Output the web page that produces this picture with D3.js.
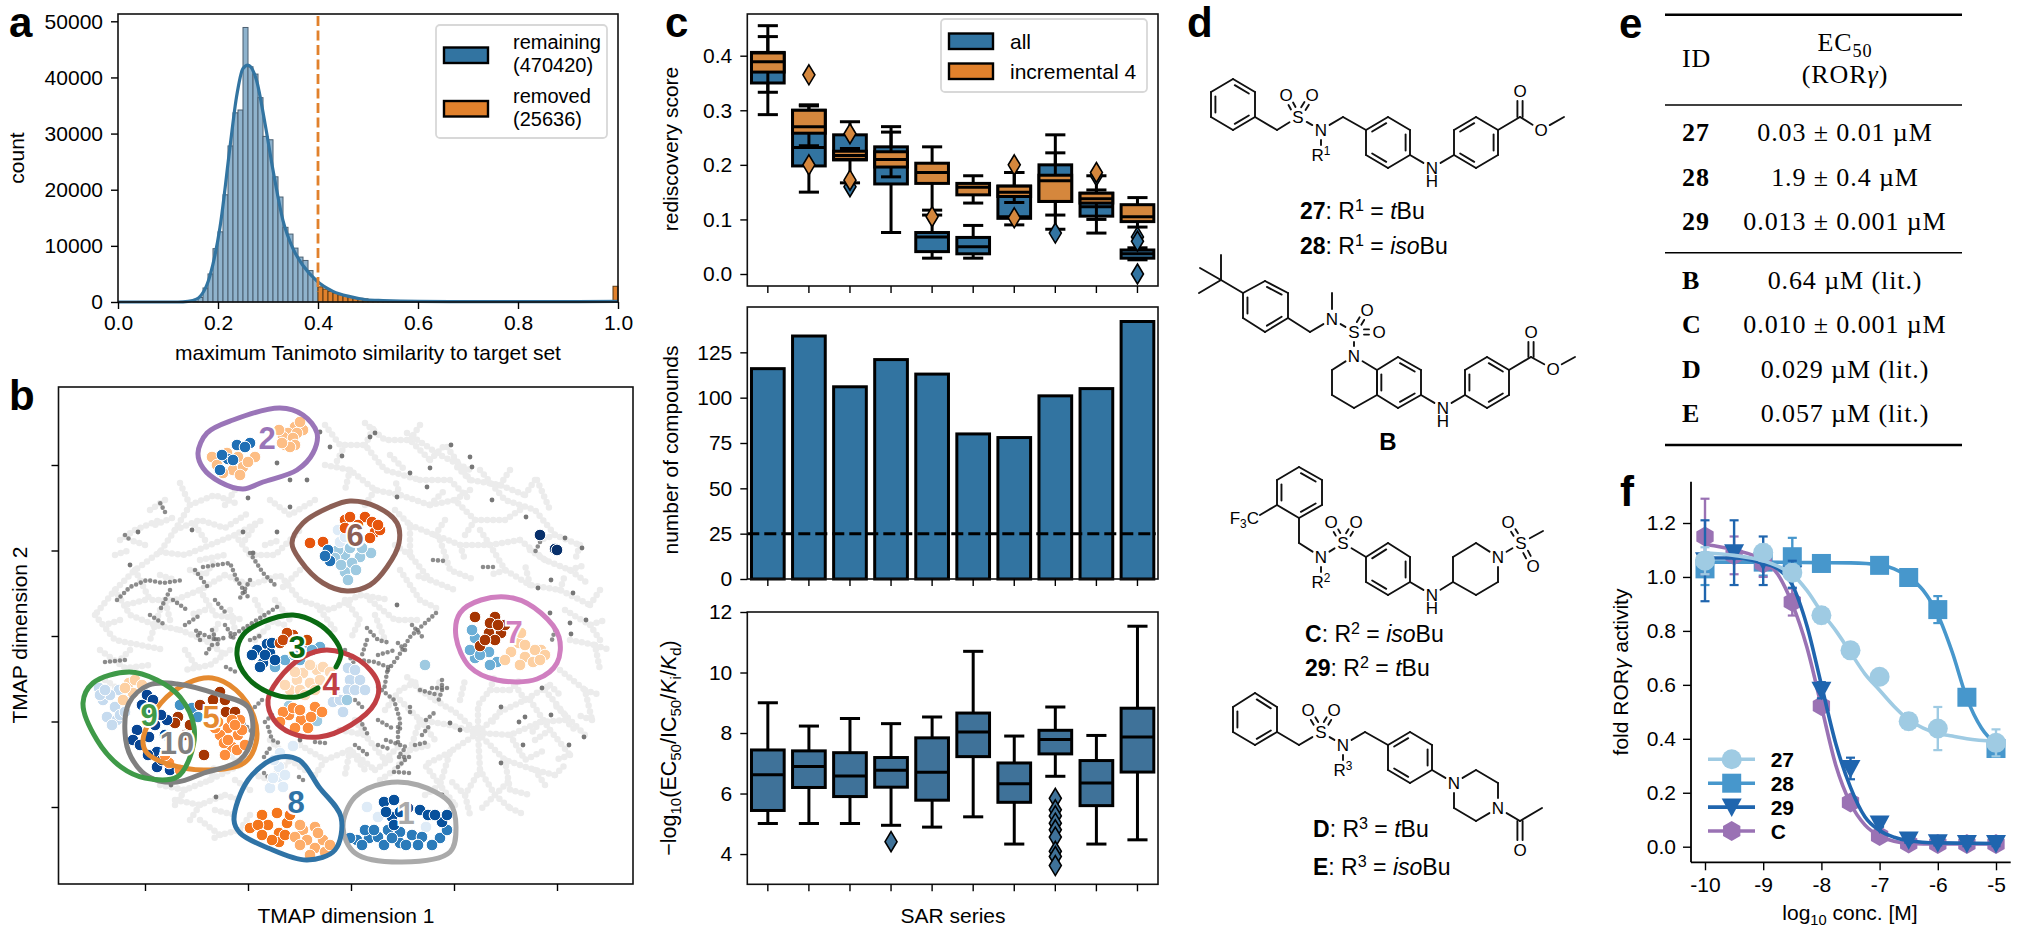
<!DOCTYPE html>
<html><head><meta charset="utf-8">
<script src="https://cdn.jsdelivr.net/npm/d3@7"></script>
<style>
html,body{margin:0;padding:0;background:#fff}
svg{display:block}
text{font-family:"Liberation Sans",Arial,sans-serif;fill:#000}
.axis text{font-size:21px}
.axis line{stroke:#000;stroke-width:1.4}
.axis path{display:none}
</style></head><body>
<svg id="fig" width="2021" height="937" viewBox="0 0 2021 937"></svg>
<script>
// ---------- panel a data ----------
const histStart = 0.15, histWidth = 0.01;
const histRemaining = [100,800,2500,5000,9500,12500,19100,27800,33700,34200,48900,41900,40600,36400,29500,28900,22300,18700,13300,12100,9600,8000,7400,5600,4100];
const histRemoved = [2700,2300,1900,1600,1300,1100,900,750,650,550,400,320,260,220,180,150,120,100,90,80];
const histRemovedEnd = [[0.99,2800]];
const kdeX = [0,0.12,0.14,0.157,0.184,0.204,0.224,0.237,0.25,0.26,0.277,0.294,0.31,0.33,0.35,0.37,0.397,0.43,0.464,0.497,0.53,0.6,0.8,1.0];
const kdeY = [0,0,100,500,4700,13300,27600,36500,41600,42200,39500,31800,23500,14500,9500,6500,3800,1900,950,400,250,100,50,100];
const aTicksY = [0,10000,20000,30000,40000,50000];
const aTicksX = [0,0.2,0.4,0.6,0.8,1.0];
const aThreshold = 0.4;
const aLegend = [["remaining","(470420)"],["removed","(25636)"]];

// ---------- panel c data (low whisker, q1, median, q3, high whisker) ----------
const sarSeries = ["1","2","3","4","5","6","7","8","9","10"];
const scoreAll = [[.292,.35,.38,.406,.455],[.15,.198,.232,.30,.308],[.167,.209,.218,.255,.279],[.076,.165,.2,.233,.27],[.029,.041,.068,.076,.108],[.029,.037,.05,.067,.089],[.09,.102,.105,.161,.186],[.082,.133,.17,.2,.255],[.075,.106,.123,.148,.18],[.026,.029,.037,.044,.048]];
const scoreInc = [[.333,.37,.389,.405,.435],[.235,.258,.27,.30,.31],[.21,.21,.217,.225,.23],[.178,.196,.21,.224,.26],[.117,.166,.186,.203,.233],[.13,.145,.159,.166,.18],[.131,.142,.15,.161,.186],[.108,.133,.171,.181,.222],[.1,.13,.138,.148,.154],[.086,.096,.105,.127,.14]];
const scoreAllFliers = [[],[],[.16],[],[],[],[],[.075],[.18],[.068,.06,0.0]];
const scoreIncFliers = [[],[.365,.2],[.257,.172],[],[.105],[],[.2,.103],[],[.186],[]];
const scoreTicks = [0,0.1,0.2,0.3,0.4];
const compoundCounts = [116,134,106,121,113,80,78,101,105,142];
const compoundTicks = [0,25,50,75,100,125];
const compoundCut = 25;
const potencyBoxes = [[5.01,5.44,6.62,7.44,9.0],[5.01,6.2,6.89,7.41,8.23],[5.01,5.9,6.58,7.35,8.48],[4.95,6.21,6.77,7.19,8.31],[4.89,5.78,6.7,7.84,8.53],[5.23,7.22,8.03,8.66,10.7],[4.33,5.71,6.32,7.01,7.9],[6.57,7.31,7.79,8.09,8.86],[4.33,5.6,6.35,7.09,7.92],[4.47,6.71,7.87,8.82,11.53]];
const potencyFliers = [[],[],[],[4.41],[],[],[],[5.84,5.46,5.26,5.02,4.8,4.56,4.09,3.92,3.62],[],[]];
const potencyTicks = [4,6,8,10,12];
const cLegend = ["all","incremental 4"];

// ---------- panel b data, in TMAP units ----------
const lightBranches = [
[[180,483],[190,505],[175,530],[160,552],[135,570],[115,590],[95,615]],[[190,505],[215,495],[240,505]],[[175,530],[200,520],[225,528],[250,512]],[[160,552],[185,555],[210,545],[235,535],[262,520]],[[135,570],[150,600],[175,600],[200,590],[225,575]],[[115,590],[130,615],[155,625],[180,630]],[[95,615],[115,640],[140,645],[165,650]],[[120,540],[135,530],[160,520]],[[115,555],[130,550]],[[235,535],[250,555],[275,555],[300,530]],[[225,575],[250,585],[280,575],[300,600]],[[200,590],[215,615],[245,620]],[[180,630],[205,640],[225,655]],[[100,650],[125,668],[150,665]],[[105,680],[120,690]],[[270,500],[290,515],[315,500]],[[300,600],[330,610],[360,595],[390,600]],
[[325,425],[340,445],[365,445],[385,470],[420,480]],[[365,423],[385,440],[410,440],[430,460]],[[325,465],[350,470],[375,490],[400,495],[430,505]],[[407,433],[440,455],[470,470]],[[447,447],[470,480],[500,485],[525,495]],[[430,505],[455,500],[475,520],[505,520]],[[420,480],[450,480],[470,500]],[[410,525],[435,535],[460,545],[490,545],[520,540]],[[395,510],[410,525],[410,555],[430,580],[455,590]],[[480,470],[505,500],[535,510],[555,535],[580,545]],[[537,480],[550,510]],[[520,540],[545,560],[570,570],[590,585]],[[490,545],[505,570],[530,585],[560,590],[590,605]],[[400,570],[420,600],[440,610]],[[370,600],[395,620],[420,620]],[[440,540],[450,570],[475,580]],
[[565,610],[590,625],[605,620]],[[570,640],[595,645],[600,670]],[[560,670],[585,690],[592,720]],[[545,690],[565,715],[585,735]],[[530,700],[550,730],[570,755]],
[[478,733],[478,705],[490,690],[510,690]],[[478,733],[455,712],[435,700],[420,690]],[[478,733],[500,712],[525,700],[550,685]],[[478,733],[510,735],[540,722],[565,720]],[[478,733],[505,760],[535,770],[555,775]],[[478,733],[480,770],[495,795],[510,808]],[[478,733],[450,752],[440,785],[455,805]],[[420,720],[450,725],[478,733]],[[400,700],[420,720],[410,750],[395,770]],[[510,735],[525,760],[545,750]],[[505,760],[510,790],[530,795]],[[450,752],[425,765],[440,785]],[[480,770],[465,795],[470,815]],[[495,795],[480,810]],
[[300,745],[325,760],[350,750],[375,770]],[[340,730],[365,735],[385,760]],[[350,750],[345,775]],[[385,710],[400,690],[420,680]],[[230,650],[210,665],[185,670]],[[270,740],[290,760],[270,780]],
[[160,785],[185,790],[210,780],[240,765]],[[175,800],[200,805],[225,795]],[[200,820],[220,835],[240,830]],[[215,810],[235,815]],[[250,790],[235,780]],
[[150,510],[165,500]],[[172,518],[155,525]],[[145,545],[130,540]],[[160,575],[175,580]],[[190,570],[205,575],[215,560]],[[205,540],[195,525]],[[225,505],[235,490]],[[245,540],[255,525]],[[265,545],[280,540]],[[255,600],[265,620],[285,625]],[[230,610],[235,630]],[[205,610],[190,615]],[[160,610],[150,640]],[[120,620],[105,625]],[[130,650],[120,660]],[[185,650],[195,665]],[[145,600],[125,605]],[[200,560],[225,555]],[[170,620],[165,600]],[[210,640],[220,620]],[[255,640],[270,625]],[[275,600],[290,620]],[[300,570],[280,590]],[[320,610],[335,630]],[[345,600],[360,620],[350,640]],[[375,615],[385,640]],
[[345,445],[335,465]],[[365,445],[375,425]],[[390,455],[405,470]],[[410,440],[420,425]],[[430,460],[445,445]],[[350,470],[345,490]],[[375,490],[365,505]],[[400,495],[395,480]],[[430,505],[445,490]],[[455,500],[470,490]],[[470,480],[455,465]],[[500,485],[510,470]],[[525,495],[535,480]],[[475,520],[465,535]],[[505,520],[520,510]],[[435,535],[445,520]],[[460,545],[465,560]],[[490,545],[480,530]],[[410,555],[395,545]],[[430,580],[415,575]],[[505,570],[490,575]],[[530,585],[525,565]],[[560,590],[565,575]],[[555,535],[540,540]],[[580,545],[575,560]],[[545,560],[530,550]],[[570,570],[585,565]],[[590,605],[600,590]],
[[590,625],[600,640]],[[595,645],[610,650]],[[585,690],[600,695]],[[592,720],[578,715]],[[565,715],[555,705]],[[550,730],[535,740]],[[570,755],[555,760]],[[490,690],[495,675]],[[510,690],[520,680]],[[435,700],[440,680]],[[420,690],[405,675]],[[525,700],[515,685]],[[550,685],[560,695]],[[540,722],[530,735]],[[565,720],[575,730]],[[535,770],[545,785]],[[555,775],[565,765]],[[510,808],[525,815]],[[495,795],[510,780]],[[455,805],[445,815]],[[440,785],[425,795]],[[465,795],[450,780]],[[395,770],[380,780]],[[410,750],[430,745]],[[420,720],[435,740]],[[460,700],[465,680]],[[500,712],[490,725]],
[[325,760],[315,775]],[[350,750],[365,770]],[[375,770],[390,760]],[[365,735],[355,720]],[[385,760],[400,745]],[[290,760],[305,770]],[[270,780],[255,775]],[[240,765],[225,750]],[[210,780],[215,765]],[[185,790],[175,805]],[[200,805],[190,820]],[[225,795],[240,800]],[[220,835],[210,840]],[[240,830],[250,815]]
];
const darkBranches = [
[[436,613],[423,625],[410,637],[398,657],[388,670]],[[367,628],[378,640],[390,643]],[[359,660],[375,662],[388,667],[384,690]],[[442,680],[442,690],[438,702]],[[432,688],[452,688]],
[[386,740],[406,747],[398,757],[412,757]],[[398,727],[398,745]],[[426,720],[434,713]],[[410,707],[410,717]],[[378,687],[394,700],[400,720],[400,733]],
[[268,727],[272,740],[279,743]],[[264,757],[272,745]],[[315,742],[325,743]],[[200,633],[216,640],[228,637]],[[212,630],[218,645]],[[105,662],[125,660]],[[226,667],[238,673]],
[[117,600],[130,587],[147,580],[163,583],[183,580]],[[173,600],[187,610]],[[203,567],[230,563],[237,580],[250,600]],[[250,553],[263,573],[277,587]],[[277,607],[257,620],[230,637]],
[[264,773],[272,781]],[[299,777],[307,783]],[[394,772],[410,773]],[[540,542],[535,552]],[[165,512],[158,499]],[[125,535],[132,542]],[[433,560],[445,561]],[[483,567],[495,567]],[[555,630],[552,640]],
[[200,640],[195,628]],[[212,645],[205,655]],[[225,625],[235,640]],[[250,640],[262,635]],[[345,650],[355,665]],[[367,640],[362,655]],[[378,655],[395,650]],[[405,650],[395,640]],[[412,625],[425,640]],[[420,690],[438,695]],[[378,720],[392,728]],[[378,745],[392,750]],[[405,760],[395,770]],[[415,745],[428,742]],[[422,735],[430,725]],[[360,720],[368,735]],[[355,700],[365,710]],[[355,745],[368,755]],[[272,715],[262,725]],[[240,720],[255,735]],[[262,700],[250,712]],[[150,615],[165,625]],[[170,590],[160,610]],[[195,570],[210,590]],[[250,580],[240,598]],[[215,600],[225,612]],[[185,625],[200,615]]
];
const darkDots = [[320,432],[370,437],[375,433],[330,447],[342,456],[277,463],[290,480],[307,480],[248,498],[192,530],[138,532],[243,532],[277,532],[290,507],[397,497],[410,473],[430,468],[427,487],[451,445],[470,457],[472,467],[492,500],[397,605],[130,565],[253,553],[526,517],[551,580],[538,588],[573,593],[550,613],[570,623],[586,620],[571,634],[542,688],[525,717],[551,715],[565,538],[582,548],[501,707],[501,763],[523,745],[569,745],[584,737],[450,723],[460,730],[519,722],[216,797],[442,795],[171,785],[300,740]];
const clusterPoints = [
{c:"#fdbe85",p:[[295,427],[303,430],[288,433],[297,433],[283,437],[293,438],[285,445],[295,445],[290,447],[212,457],[238,457],[255,457],[233,470],[243,467],[227,453],[300,422],[282,443],[279,430],[248,462],[217,465],[240,475],[223,473]]},
{c:"#1f6fb5",p:[[237,445],[250,443],[228,459],[220,470],[222,455],[245,447],[233,460]]},
{c:"#9ecae1",p:[[345,555],[360,557],[371,553],[345,572],[352,563],[338,550],[350,548],[335,558],[356,570],[348,580],[341,565],[362,548]]},
{c:"#deebf7",p:[[338,530],[340,542],[345,537]]},
{c:"#e6550d",p:[[345,520],[365,517],[375,532],[380,530],[370,538],[310,543],[323,542],[350,517],[358,525],[372,522],[378,525],[345,528]]},
{c:"#2171b5",p:[[328,550],[330,561],[325,556]]},
{c:"#6baed6",p:[[285,660],[275,667],[320,647],[305,650],[294,655],[312,650],[300,660]]},
{c:"#08519c",p:[[257,650],[267,644],[263,663],[270,653],[260,667],[272,643],[265,655],[252,655],[275,660]]},
{c:"#c8490a",p:[[280,643],[293,635],[287,633],[307,640],[283,640]]},
{c:"#fdd9b5",p:[[303,673],[317,670],[323,667],[310,683],[297,680],[320,680],[310,665],[290,690],[300,690],[285,685],[330,672],[295,672],[315,690],[305,695]]},
{c:"#c6dbef",p:[[348,668],[350,680],[360,680],[348,690],[333,702],[340,700],[355,670],[355,690],[343,712],[365,690],[335,690]]},
{c:"#9ecae1",p:[[289,706],[317,721],[347,700]]},
{c:"#fd8d3c",p:[[289,715],[315,707],[301,720],[283,712],[311,717],[293,708],[300,710],[280,722],[322,712],[295,728],[308,728]]},
{c:"#6baed6",p:[[475,638],[475,658],[489,652],[497,662],[470,650],[480,655],[472,630],[490,665]]},
{c:"#a63603",p:[[475,617],[495,617],[489,633],[480,646],[501,633],[490,623],[495,640],[485,640],[505,625],[498,625]]},
{c:"#fdd0a2",p:[[511,652],[525,657],[541,650],[519,643],[533,662],[521,633],[535,650],[545,655],[525,645],[520,665],[505,660],[540,660]]},
{c:"#deebf7",p:[[278,777],[270,788],[283,787],[279,767],[293,746],[280,753],[274,760],[285,775],[273,778]]},
{c:"#f4761c",p:[[250,828],[262,815],[277,813],[268,825],[279,833],[287,823],[279,842],[258,825],[272,840],[290,815],[262,835],[285,835]]},
{c:"#fdae6b",p:[[303,830],[315,827],[307,840],[323,840],[295,837],[315,848],[300,845],[325,852],[330,845],[310,855],[318,833],[300,825]]},
{c:"#deebf7",p:[[367,807],[378,817],[426,827]]},
{c:"#2b7bba",p:[[357,840],[369,838],[378,837],[400,832],[412,835],[440,838],[422,837],[400,843],[388,830],[365,830],[350,838],[362,845],[384,845],[392,838],[406,845],[418,845],[432,845],[447,830],[374,830]]},
{c:"#08519c",p:[[384,802],[394,800],[420,810],[442,822],[428,815],[392,817],[400,812],[386,812],[408,808],[435,815],[447,815],[394,825]]},
{c:"#c6dbef",p:[[99,688],[119,690],[115,707],[107,717],[117,720],[103,700],[125,700],[110,695],[100,695],[120,715],[112,725],[125,712],[105,690]]},
{c:"#fdd0a2",p:[[129,683],[133,693],[123,700],[135,680],[125,688],[142,685]]},
{c:"#4292c6",p:[[192,708],[198,717],[180,705]]},
{c:"#a63603",p:[[178,717],[204,755],[226,712],[220,692],[175,723],[190,725],[200,705],[213,700],[225,700],[235,712],[185,735]]},
{c:"#084594",p:[[147,695],[153,700],[167,720],[137,730],[149,737],[157,752],[157,767],[133,740],[161,715],[142,705],[150,712],[155,725],[165,735],[140,745],[148,755],[162,760],[170,770]]},
{c:"#fd8d3c",p:[[228,728],[220,735],[232,747],[240,720],[232,720],[169,763],[224,743],[238,735],[215,728],[242,730],[228,740],[237,750],[218,722],[225,755],[235,725],[245,745],[180,770],[165,755]]},
{c:"#08306b",p:[[540,535],[555,549],[557,550]]},
{c:"#9ecae1",p:[[425,665]]}
];
const clusterLoops = [
{id:"1",c:"#aaaaaa",closed:true,l:[406,813],p:[[343,827],[355,797],[386,783],[418,785],[450,803],[456,827],[450,852],[402,862],[355,853]]},
{id:"2",c:"#9a75b8",closed:true,l:[267,438],p:[[198,453],[207,433],[233,420],[280,408],[303,415],[317,433],[313,453],[297,470],[263,482],[243,489],[220,482],[203,468]]},
{id:"6",c:"#8c5f55",closed:true,l:[355,535],p:[[292,543],[303,523],[330,507],[350,501],[377,507],[397,523],[399,543],[387,567],[370,585],[347,591],[323,583],[300,560]]},
{id:"7",c:"#d07fc0",closed:true,l:[514,632],p:[[456,637],[460,613],[481,600],[513,598],[541,613],[559,637],[557,663],[537,679],[497,680],[470,667]]},
{id:"8",c:"#2f73a6",closed:true,l:[296,802],p:[[234,820],[248,780],[276,758],[299,760],[319,787],[341,817],[335,850],[307,860],[268,848],[240,833]]},
{id:"4",c:"#c13f44",closed:true,l:[331,684],p:[[268,700],[278,680],[303,657],[327,650],[359,660],[378,683],[375,703],[351,725],[319,737],[291,733],[274,720]]},
{id:"3",c:"#0a6a12",closed:false,l:[297,647],p:[[318,688],[297,697],[270,693],[247,677],[237,655],[243,635],[263,622],[293,615],[317,623],[333,637],[341,653],[336,667]]},
{id:"5",c:"#e58a30",closed:true,l:[211,717],p:[[143,740],[161,703],[188,683],[212,678],[236,690],[254,717],[256,743],[244,763],[204,770],[165,763],[147,753]]},
{id:"10",c:"#808080",closed:true,l:[177,743],p:[[125,733],[129,703],[149,685],[177,684],[220,695],[248,707],[252,737],[240,760],[204,773],[177,782],[149,777],[131,757]]},
{id:"9",c:"#3f9a48",closed:true,l:[149,715],p:[[83,703],[93,683],[129,672],[157,680],[180,697],[194,727],[190,757],[177,777],[145,778],[121,767],[97,740]]}
];
const bTicksX = [145,248,351,454,557];
const bTicksY = [465,550.5,636,721.5,807];

// ---------- panel e data ----------
const tableIds = ["27","28","29","B","C","D","E"];
const tableVals = ["0.03 ± 0.01 µM","1.9 ± 0.4 µM","0.013 ± 0.001 µM","0.64 µM (lit.)","0.010 ± 0.001 µM","0.029 µM (lit.)","0.057 µM (lit.)"];

// ---------- panel f data ----------
const doseFull = [-10,-9.5,-9,-8.5,-8,-7.5,-7,-6.5,-6,-5.5,-5];
const seriesF = [
 {name:"28",c:"#4797cc",m:"square",x:[-10,-9,-8.5,-8,-7,-6.5,-6,-5.5,-5],y:[1.03,1.055,1.075,1.05,1.043,.998,.879,.554,.364],e:[.06,.05,.07,.02,.02,.02,.05,.02,.02],
  cx:[-10,-9,-8,-7.5,-7,-6.75,-6.5,-6.25,-6,-5.75,-5.5,-5.25,-5],cy:[1.055,1.055,1.053,1.052,1.045,1.03,1.0,.95,.86,.72,.55,.44,.38]},
 {name:"C",c:"#9a72b4",m:"hex",x:doseFull,y:[1.15,1.08,1.05,.907,.522,.164,.04,.012,.01,.01,.01],e:[.14,.07,.05,.05,.02,.02,.01,.01,.01,.01,.01],
  cx:[-10,-9.5,-9,-8.75,-8.5,-8.25,-8,-7.75,-7.5,-7.25,-7,-6.75,-6.5,-6,-5],cy:[1.12,1.10,1.06,1.01,.9,.74,.52,.30,.16,.08,.04,.02,.012,.01,.01]},
 {name:"29",c:"#1f65ae",m:"tri",x:doseFull,y:[1.06,1.09,1.06,1.01,.58,.29,.084,.025,.015,.012,.012],e:[.15,.12,.09,.05,.03,.04,.01,.01,.01,.01,.01],
  cx:[-10,-9.5,-9,-8.75,-8.5,-8.25,-8,-7.75,-7.5,-7.25,-7,-6.75,-6.5,-6,-5],cy:[1.07,1.07,1.05,1.03,.97,.82,.6,.38,.22,.11,.06,.035,.022,.014,.012]},
 {name:"27",c:"#9fcbe3",m:"circle",x:[-10,-9,-8.5,-8,-7.5,-7,-6.5,-6,-5],y:[1.06,1.09,1.016,.858,.728,.63,.465,.438,.385],e:[.05,.03,.03,.03,.02,.02,.03,.08,.05],
  cx:[-10,-9.5,-9,-8.75,-8.5,-8.25,-8,-7.75,-7.5,-7.25,-7,-6.75,-6.5,-6.25,-6,-5.75,-5.5,-5],cy:[1.09,1.08,1.06,1.04,1.01,.95,.87,.80,.72,.64,.58,.52,.47,.44,.42,.41,.40,.39]}
];
const fLegendOrder = ["27","28","29","C"];
const fTicksY = [0,.2,.4,.6,.8,1.0,1.2];
const fTicksX = [-10,-9,-8,-7,-6,-5];

const BLUE="#3274a1", ORANGE="#e1812c", BOX_ORANGE="#d5873d";
const svg = d3.select("#fig");

function rot(x,y,size,parts){
  const t=svg.append("text").attr("transform",`translate(${x},${y}) rotate(-90)`).attr("text-anchor","middle").style("font-size",size+"px");
  fill(t,parts,size);return t;
}
function fill(t,parts,size){
  let shift=0;
  parts.forEach(p=>{
    const o=typeof p==="string"?{t:p}:p;
    const ts=t.append("tspan").text(o.t);
    let target=0;
    if(o.sub){target=size*.22;ts.style("font-size",(size*.7)+"px");}
    if(o.sup){target=-size*.36;ts.style("font-size",(size*.7)+"px");}
    if(o.b)ts.style("font-weight","bold");
    if(o.i)ts.style("font-style","italic");
    if(target!==shift){ts.attr("dy",target-shift);shift=target;}
  });
}
function txt(x,y,size,parts,anchor){
  const t=svg.append("text").attr("x",x).attr("y",y).attr("text-anchor",anchor||"start").style("font-size",size+"px");
  fill(t,Array.isArray(parts)?parts:[parts],size);return t;
}
function frame(l,t,r,b){svg.append("rect").attr("x",l).attr("y",t).attr("width",r-l).attr("height",b-t).attr("fill","none").attr("stroke","#111").attr("stroke-width",1.6);}
function axis(gen,x,y){return svg.append("g").attr("class","axis").attr("transform",`translate(${x},${y})`).call(gen);}

// panel letters
[["a",9,37],["b",9,410],["c",665,37],["d",1187,37],["e",1619,38],["f",1620,506]].forEach(d=>
  svg.append("text").attr("x",d[1]).attr("y",d[2]).style("font-size","42px").style("font-weight","bold").text(d[0]));

// ---------- panel a ----------
const ax=d3.scaleLinear().domain([0,1]).range([118,618]);
const ay=d3.scaleLinear().domain([0,50000]).range([302,21.3]);
const binW=ax(histWidth)-ax(0);
svg.append("g").selectAll("rect").data(histRemaining).join("rect")
 .attr("x",(d,i)=>ax(histStart+i*histWidth)).attr("y",d=>ay(d)).attr("width",binW).attr("height",d=>ay(0)-ay(d))
 .attr("fill","#8fb3cd").attr("stroke","#4a5f70").attr("stroke-width",1);
svg.append("g").selectAll("rect").data(histRemoved).join("rect")
 .attr("x",(d,i)=>ax(0.4+i*histWidth)).attr("y",d=>ay(d)).attr("width",binW).attr("height",d=>ay(0)-ay(d))
 .attr("fill",ORANGE).attr("stroke","#5a3a14").attr("stroke-width",1);
svg.append("g").selectAll("rect").data(histRemovedEnd).join("rect")
 .attr("x",d=>ax(d[0])).attr("y",d=>ay(d[1])).attr("width",binW).attr("height",d=>ay(0)-ay(d[1]))
 .attr("fill",ORANGE).attr("stroke","#5a3a14").attr("stroke-width",1);
svg.append("path").datum(kdeX.map((x,i)=>[x,kdeY[i]])).attr("fill","none").attr("stroke",BLUE).attr("stroke-width",3.2)
 .attr("d",d3.line().x(d=>ax(d[0])).y(d=>ay(d[1])).curve(d3.curveMonotoneX));
svg.append("line").attr("x1",ax(aThreshold)).attr("x2",ax(aThreshold)).attr("y1",16).attr("y2",ay(1800)).attr("stroke",ORANGE).attr("stroke-width",2.8).attr("stroke-dasharray","10 4.5");
frame(118,14,618,302);
axis(d3.axisLeft(ay).tickValues(aTicksY).tickFormat(d3.format("d")).tickSize(7).tickPadding(8),118,0);
axis(d3.axisBottom(ax).tickValues(aTicksX).tickFormat(d3.format(".1f")).tickSize(7).tickPadding(6),0,302);
rot(24,158,21,["count"]);
txt(368,360,21,"maximum Tanimoto similarity to target set","middle");
svg.append("rect").attr("x",436).attr("y",25).attr("width",171).attr("height",113).attr("rx",4).attr("fill","#fff").attr("stroke","#d8d8d8").attr("stroke-width",1.8);
[[BLUE,47.5,0],[ORANGE,101,1]].forEach(d=>{
  svg.append("rect").attr("x",444).attr("y",d[1]).attr("width",44).attr("height",15.5).attr("fill",d[0]).attr("stroke","#000").attr("stroke-width",2.4);
  txt(513,d[1]+1.5,20,aLegend[d[2]][0]);txt(513,d[1]+24.5,20,aLegend[d[2]][1]);
});

// ---------- panel b ----------
const tx=d3.scaleLinear().domain([58.5,633]).range([58.5,633]);
const ty=d3.scaleLinear().domain([387,884]).range([387,884]);
const tline=d3.line().x(d=>tx(d[0])).y(d=>ty(d[1]));
svg.append("g").selectAll("path").data(lightBranches).join("path").attr("d",tline).attr("fill","none")
 .attr("stroke","#ececec").attr("stroke-width",6.5).attr("stroke-linecap","round").attr("stroke-dasharray","0 6");
svg.append("g").selectAll("path").data(darkBranches).join("path").attr("d",tline).attr("fill","none")
 .attr("stroke","#666").attr("stroke-opacity",.75).attr("stroke-width",4.6).attr("stroke-linecap","round").attr("stroke-dasharray","0 5");
svg.append("g").selectAll("circle").data(darkDots).join("circle").attr("cx",d=>tx(d[0])).attr("cy",d=>ty(d[1])).attr("r",2.4).attr("fill","#777");
clusterPoints.forEach(g=>{
  svg.append("g").selectAll("circle").data(g.p).join("circle").attr("cx",d=>tx(d[0])).attr("cy",d=>ty(d[1])).attr("r",5.8).attr("fill",g.c).attr("stroke","#fff").attr("stroke-width",1);
});
clusterLoops.forEach(l=>{
  svg.append("path").datum(l.p).attr("fill","none").attr("stroke",l.c).attr("stroke-width",5).attr("stroke-linecap","round")
   .attr("d",tline.curve(l.closed?d3.curveCatmullRomClosed:d3.curveCatmullRom));
});
tline.curve(d3.curveLinear);
clusterLoops.forEach(l=>{
  svg.append("text").attr("x",tx(l.l[0])).attr("y",ty(l.l[1])+11).attr("text-anchor","middle")
   .style("font-size","31px").style("font-weight","bold").style("fill",l.c).style("stroke","#fff").style("stroke-width","4px").style("paint-order","stroke").text(l.id);
});
frame(58.5,387,633,884);
axis(d3.axisBottom(tx).tickValues(bTicksX).tickFormat("").tickSize(7),0,884);
axis(d3.axisLeft(ty).tickValues(bTicksY).tickFormat("").tickSize(7),58.5,0);
txt(346,923,21,"TMAP dimension 1","middle");
rot(27,635,21,["TMAP dimension 2"]);

// ---------- panel c ----------
const cx=d3.scaleBand().domain(sarSeries).range([747.3,1158]).paddingInner(.155).paddingOuter(.0775);
const cc=s=>cx(s)+cx.bandwidth()/2;
function boxes(y,stats,fliers,color){
  const g=svg.append("g");
  stats.forEach((s,i)=>{
    const k=sarSeries[i],x0=cc(k),w=cx.bandwidth();
    const sw=3;
    g.append("line").attr("x1",x0).attr("x2",x0).attr("y1",y(s[0])).attr("y2",y(s[1])).attr("stroke","#000").attr("stroke-width",sw);
    g.append("line").attr("x1",x0).attr("x2",x0).attr("y1",y(s[3])).attr("y2",y(s[4])).attr("stroke","#000").attr("stroke-width",sw);
    [s[0],s[4]].forEach(v=>g.append("line").attr("x1",x0-w*.29).attr("x2",x0+w*.29).attr("y1",y(v)).attr("y2",y(v)).attr("stroke","#000").attr("stroke-width",sw));
    g.append("rect").attr("x",x0-w/2+1).attr("width",w-2).attr("y",y(s[3])).attr("height",y(s[1])-y(s[3])).attr("fill",color).attr("stroke","#000").attr("stroke-width",sw);
    g.append("line").attr("x1",x0-w/2+1).attr("x2",x0+w/2-1).attr("y1",y(s[2])).attr("y2",y(s[2])).attr("stroke","#000").attr("stroke-width",sw);
    (fliers[i]||[]).forEach(v=>g.append("path").attr("d",`M${x0},${y(v)-10}L${x0+6},${y(v)}L${x0},${y(v)+10}L${x0-6},${y(v)}Z`).attr("fill",color).attr("stroke","#000").attr("stroke-width",1.6));
  });
}
const cy1=d3.scaleLinear().domain([0,0.4]).range([274,55.7]);
boxes(cy1,scoreAll,scoreAllFliers,BLUE);
boxes(cy1,scoreInc,scoreIncFliers,BOX_ORANGE);
frame(747.3,14,1158,286);
axis(d3.axisLeft(cy1).tickValues(scoreTicks).tickFormat(d3.format(".1f")).tickSize(7).tickPadding(8),747.3,0);
axis(d3.axisBottom(cx).tickFormat("").tickSize(7),0,286);
rot(678,149,21,["rediscovery score"]);
svg.append("rect").attr("x",941).attr("y",19).attr("width",206).attr("height",73).attr("rx",4).attr("fill","#fff").attr("stroke","#d8d8d8").attr("stroke-width",1.8);
[[BLUE,33.5,0],[ORANGE,63.5,1]].forEach(d=>{
  svg.append("rect").attr("x",949).attr("y",d[1]).attr("width",44).attr("height",15.5).attr("fill",d[0]).attr("stroke","#000").attr("stroke-width",2.4);
  txt(1010,d[1]+15,21,cLegend[d[2]]);
});
const cy2=d3.scaleLinear().domain([0,150]).range([579,307]);
svg.append("g").selectAll("rect").data(compoundCounts).join("rect")
 .attr("x",(d,i)=>cx(sarSeries[i])+1).attr("width",cx.bandwidth()-2).attr("y",d=>cy2(d)).attr("height",d=>cy2(0)-cy2(d))
 .attr("fill",BLUE).attr("stroke","#000").attr("stroke-width",3);
svg.append("line").attr("x1",747.3).attr("x2",1156).attr("y1",cy2(compoundCut)).attr("y2",cy2(compoundCut)).attr("stroke","#000").attr("stroke-width",3).attr("stroke-dasharray","12 5");
frame(747.3,307,1158,579);
axis(d3.axisLeft(cy2).tickValues(compoundTicks).tickSize(7).tickPadding(8),747.3,0);
axis(d3.axisBottom(cx).tickFormat("").tickSize(7),0,579);
rot(678,450,21,["number of compounds"]);
const cy3=d3.scaleLinear().domain([3,12]).range([884.3,612]);
boxes(cy3,potencyBoxes,potencyFliers,"#3f7299");
frame(747.3,612,1158,884.3);
axis(d3.axisLeft(cy3).tickValues(potencyTicks).tickSize(7).tickPadding(8),747.3,0);
axis(d3.axisBottom(cx).tickFormat("").tickSize(7),0,884.3);
txt(953,923,21,"SAR series","middle");
rot(676,748,21.5,["−log",{t:"10",sub:1},"(EC",{t:"50",sub:1},"/IC",{t:"50",sub:1},"/",{t:"K",i:1},{t:"i",sub:1},"/",{t:"K",i:1},{t:"d",sub:1},")"]);

// ---------- panel d: structures ----------
const mol=svg.append("g").attr("stroke","#111").attr("stroke-width",1.9).attr("stroke-linecap","round");
const seg=(a,b)=>mol.append("line").attr("x1",a[0]).attr("y1",a[1]).attr("x2",b[0]).attr("y2",b[1]);
function trim(a,b){
  const dx=b[0]-a[0],dy=b[1]-a[1],L=Math.hypot(dx,dy);
  const ta=a[2]?10:0,tb=b[2]?10:0;
  return [[a[0]+dx*ta/L,a[1]+dy*ta/L],[b[0]-dx*tb/L,b[1]-dy*tb/L]];
}
function bond(a,b){const t=trim(a,b);seg(t[0],t[1]);}
function dbl(a,b){const t=trim(a,b),dx=t[1][0]-t[0][0],dy=t[1][1]-t[0][1],L=Math.hypot(dx,dy),nx=-dy/L*2.6,ny=dx/L*2.6;
  seg([t[0][0]+nx,t[0][1]+ny],[t[1][0]+nx,t[1][1]+ny]);seg([t[0][0]-nx,t[0][1]-ny],[t[1][0]-nx,t[1][1]-ny]);}
function ring(p,dbls){
  const c=[d3.mean(p,d=>d[0]),d3.mean(p,d=>d[1])];
  p.forEach((a,i)=>{const b=p[(i+1)%p.length];bond(a,b);
    if(dbls&&dbls.includes(i)){const f=v=>[v[0]+(c[0]-v[0])*.2,v[1]+(c[1]-v[1])*.2];const A=f(a),B=f(b);
      seg([A[0]+(B[0]-A[0])*.1,A[1]+(B[1]-A[1])*.1],[B[0]-(B[0]-A[0])*.1,B[1]-(B[1]-A[1])*.1]);}
  });
}
function atom(p){
  const t=svg.append("text").attr("x",p[0]).attr("y",p[1]+6).attr("text-anchor","middle").style("font-size","17px");
  if(p[2]==="NH"){t.append("tspan").attr("x",p[0]).text("N");t.append("tspan").attr("x",p[0]).attr("dy",13).text("H");}
  else if(p[3])fill(t,p[3],17);else t.text(p[2]);
}
const A=(x,y,l,parts)=>[x,y,l,parts];
// 27 / 28
{
 const r1=[[1233,79],[1255,92],[1255,117],[1233,130],[1211,117],[1211,92]];
 const r2=[[1366,130],[1388,117],[1410,130],[1410,155],[1388,168],[1366,155]];
 const r3=[[1454,130],[1476,117],[1498,130],[1498,155],[1476,168],[1454,155]];
 ring(r1,[0,2,4]);ring(r2,[0,2,4]);ring(r3,[0,2,4]);
 const S=A(1298,117,"S"),O1=A(1286,95,"O"),O2=A(1312,95,"O"),N=A(1321,130,"N"),R=A(1321,155,"R",["R",{t:"1",sup:1}]),NH=A(1432,168,"NH");
 bond([1255,117],[1277,130]);bond([1277,130],S);dbl(S,O1);dbl(S,O2);bond(S,N);bond(N,R);bond(N,[1343,117]);bond([1343,117],r2[0]);
 bond(r2[3],NH);bond(NH,r3[5]);bond(r3[2],[1520,117]);
 const Oa=A(1520,91,"O"),Ob=A(1541,130,"O");dbl([1520,117],Oa);bond([1520,117],Ob);bond(Ob,[1564,117]);
 [S,O1,O2,N,R,NH,Oa,Ob].forEach(atom);
 txt(1300,219,23,[{t:"27",b:1},": R",{t:"1",sup:1}," = ",{t:"t",i:1},"Bu"]);
 txt(1300,254,23,[{t:"28",b:1},": R",{t:"1",sup:1}," = ",{t:"iso",i:1},"Bu"]);
}
// B
{
 const r1=[[1265,281],[1288,293],[1288,318],[1265,332],[1243,318],[1243,293]];
 ring(r1,[0,2,4]);
 bond(r1[5],[1221,280]);bond([1221,280],[1200,268]);bond([1221,280],[1199,293]);bond([1221,280],[1221,255]);
 const N=A(1332,319,"N"),S=A(1354,332,"S"),O1=A(1367,310,"O"),O2=A(1379,332,"O"),N2=A(1354,356,"N");
 bond(r1[2],[1310,332]);bond([1310,332],N);bond(N,[1332,293]);bond(N,S);dbl(S,O1);dbl(S,O2);bond(S,N2);
 const sat=[N2,[1332,370],[1332,395],[1354,408],[1377,395],[1377,370]];ring(sat);
 const ar=[[1398,357],[1421,370],[1421,395],[1398,408],[1377,395],[1377,370]];ring(ar,[0,2,4]);
 const NH=A(1443,408,"NH");
 const r3=[[1487,357],[1509,370],[1509,395],[1487,408],[1465,395],[1465,370]];ring(r3,[0,2,4]);
 bond(ar[2],NH);bond(NH,r3[4]);bond(r3[1],[1531,357]);
 const Oa=A(1531,332,"O"),Ob=A(1553,369,"O");dbl([1531,357],Oa);bond([1531,357],Ob);bond(Ob,[1575,357]);
 [N,S,O1,O2,N2,NH,Oa,Ob].forEach(atom);
 txt(1388,450,24,[{t:"B",b:1}],"middle");
}
// C / 29
{
 const r1=[[1299,467],[1322,480],[1322,505],[1299,518],[1277,505],[1277,480]];ring(r1,[0,2,4]);
 bond(r1[4],[1260,515]);
 txt(1259,524,17,["F",{t:"3",sub:1},"C"],"end");
 const N=A(1321,557,"N"),R=A(1321,582,"R",["R",{t:"2",sup:1}]),S=A(1343,543,"S"),O1=A(1331,522,"O"),O2=A(1356,522,"O");
 bond(r1[3],[1299,543]);bond([1299,543],N);bond(N,R);bond(N,S);dbl(S,O1);dbl(S,O2);
 const r2=[[1366,557],[1388,543],[1410,557],[1410,582],[1388,595],[1366,582]];ring(r2,[0,2,4]);bond(S,r2[0]);
 const NH=A(1432,595,"NH");bond(r2[3],NH);
 const N3=A(1498,557,"N");const pip=[[1453,582],[1453,557],[1476,543],N3,[1498,582],[1476,595]];ring(pip);bond(NH,pip[0]);
 const S2=A(1521,543,"S"),O3=A(1508,522,"O"),O4=A(1533,566,"O");bond(N3,S2);dbl(S2,O3);dbl(S2,O4);bond(S2,[1543,531]);
 [N,R,S,O1,O2,NH,N3,S2,O3,O4].forEach(atom);
 txt(1305,642,23,[{t:"C",b:1},": R",{t:"2",sup:1}," = ",{t:"iso",i:1},"Bu"]);
 txt(1305,676,23,[{t:"29",b:1},": R",{t:"2",sup:1}," = ",{t:"t",i:1},"Bu"]);
}
// D / E
{
 const r1=[[1255,693],[1277,707],[1277,732],[1255,745],[1233,732],[1233,707]];ring(r1,[0,2,4]);
 const S=A(1321,732,"S"),O1=A(1308,710,"O"),O2=A(1334,710,"O"),N=A(1343,745,"N"),R=A(1343,770,"R",["R",{t:"3",sup:1}]);
 bond(r1[2],[1299,745]);bond([1299,745],S);dbl(S,O1);dbl(S,O2);bond(S,N);bond(N,R);bond(N,[1365,732]);
 const r2=[[1388,745],[1410,732],[1432,745],[1432,770],[1410,783],[1388,770]];ring(r2,[0,2,4]);bond([1365,732],r2[0]);
 const N3=A(1454,783,"N"),N5=A(1498,808,"N");
 const pip=[N3,[1476,770],[1498,783],N5,[1476,821],[1454,808]];
 ring(pip);
 bond(r2[3],N3);
 const Cac=[1520,821],O=A(1520,850,"O");
 bond(N5,Cac);dbl(Cac,O);bond(Cac,[1542,808]);
 [S,O1,O2,N,R,N3,N5,O].forEach(atom);
 txt(1313,837,23,[{t:"D",b:1},": R",{t:"3",sup:1}," = ",{t:"t",i:1},"Bu"]);
 txt(1313,875,23,[{t:"E",b:1},": R",{t:"3",sup:1}," = ",{t:"iso",i:1},"Bu"]);
}

// ---------- panel e ----------
const SERIF='"Liberation Serif",serif';
function stxt(x,y,size,parts,anchor){const t=txt(x,y,size,parts,anchor);t.selectAll("tspan").style("font-family",SERIF);t.style("font-family",SERIF).style("letter-spacing","0.9px");return t;}
[[14.7,2.4],[105,1.4],[252.7,1.4],[445,2.4]].forEach(d=>svg.append("line").attr("x1",1665).attr("x2",1962).attr("y1",d[0]).attr("y2",d[0]).attr("stroke","#000").attr("stroke-width",d[1]));
stxt(1682,67,26,"ID");
stxt(1845,51,26,["EC",{t:"50",sub:1}],"middle");
stxt(1845,83,26,["(ROR",{t:"γ",i:1},")"],"middle");
const rowY=d3.scalePoint().domain(tableIds.slice(0,3)).range([141,230]);
const rowY2=d3.scalePoint().domain(tableIds.slice(3)).range([289,422]);
tableIds.forEach((id,i)=>{
  const y=i<3?rowY(id):rowY2(id);
  stxt(1682,y,26,[{t:id,b:1}]);
  stxt(1845,y,26,tableVals[i],"middle");
});

// ---------- panel f ----------
const fx=d3.scaleLinear().domain([-10,-5]).range([1705,1996]);
const fy=d3.scaleLinear().domain([0,1.2]).range([846.7,523]);
const L=1691,R=2010.7,T=481.7,B=862.3;
function marker(sel,m,x,y){
  const s=10;
  if(m==="circle")return sel.append("circle").attr("cx",x).attr("cy",y).attr("r",s);
  if(m==="square")return sel.append("rect").attr("x",x-s+.5).attr("y",y-s+.5).attr("width",2*s-1).attr("height",2*s-1);
  if(m==="tri")return sel.append("path").attr("d",`M${x-s},${y-s*.85}L${x+s},${y-s*.85}L${x},${y+s}Z`);
  return sel.append("path").attr("d",d3.range(6).map(i=>{const a=Math.PI/3*i;return (i?"L":"M")+(x+s*Math.sin(a))+","+(y-s*Math.cos(a));}).join("")+"Z");
}
const fline=d3.line().x(d=>fx(d[0])).y(d=>fy(d[1])).curve(d3.curveMonotoneX);
seriesF.forEach(s=>{
  const g=svg.append("g").attr("fill",s.c);
  g.append("path").datum(s.cx.map((x,i)=>[x,s.cy[i]])).attr("fill","none").attr("stroke",s.c).attr("stroke-width",3.6).attr("d",fline);
  s.x.forEach((x,i)=>{
    const X=fx(x),y0=fy(s.y[i]-s.e[i]),y1=fy(s.y[i]+s.e[i]);
    g.append("line").attr("x1",X).attr("x2",X).attr("y1",y0).attr("y2",y1).attr("stroke",s.c).attr("stroke-width",2.4);
    [y0,y1].forEach(v=>g.append("line").attr("x1",X-4.5).attr("x2",X+4.5).attr("y1",v).attr("y2",v).attr("stroke",s.c).attr("stroke-width",2.2));
    marker(g,s.m,X,fy(s.y[i]));
  });
});
svg.append("line").attr("x1",L).attr("x2",L).attr("y1",T).attr("y2",B).attr("stroke","#000").attr("stroke-width",1.8);
svg.append("line").attr("x1",L).attr("x2",R).attr("y1",B).attr("y2",B).attr("stroke","#000").attr("stroke-width",1.8);
axis(d3.axisLeft(fy).tickValues(fTicksY).tickFormat(d3.format(".1f")).tickSize(8).tickPadding(7),L,0);
axis(d3.axisBottom(fx).tickValues(fTicksX).tickFormat(d=>String(d)).tickSize(8).tickPadding(7),0,B);
txt(1850,920,21,["log",{t:"10",sub:1}," conc. [M]"],"middle");
rot(1628,672,21,["fold ROR",{t:"γ",i:1}," activity"]);
const legY=d3.scalePoint().domain(fLegendOrder).range([759.3,831]);
fLegendOrder.forEach(n=>{
  const s=seriesF.find(d=>d.name===n),y=legY(n),g=svg.append("g").attr("fill",s.c);
  g.append("line").attr("x1",1708).attr("x2",1755).attr("y1",y).attr("y2",y).attr("stroke",s.c).attr("stroke-width",3.6);
  marker(g,s.m,1731.7,y);
  txt(1770.7,y+7.5,21,[{t:n,b:1}]);
});
</script></body></html>
